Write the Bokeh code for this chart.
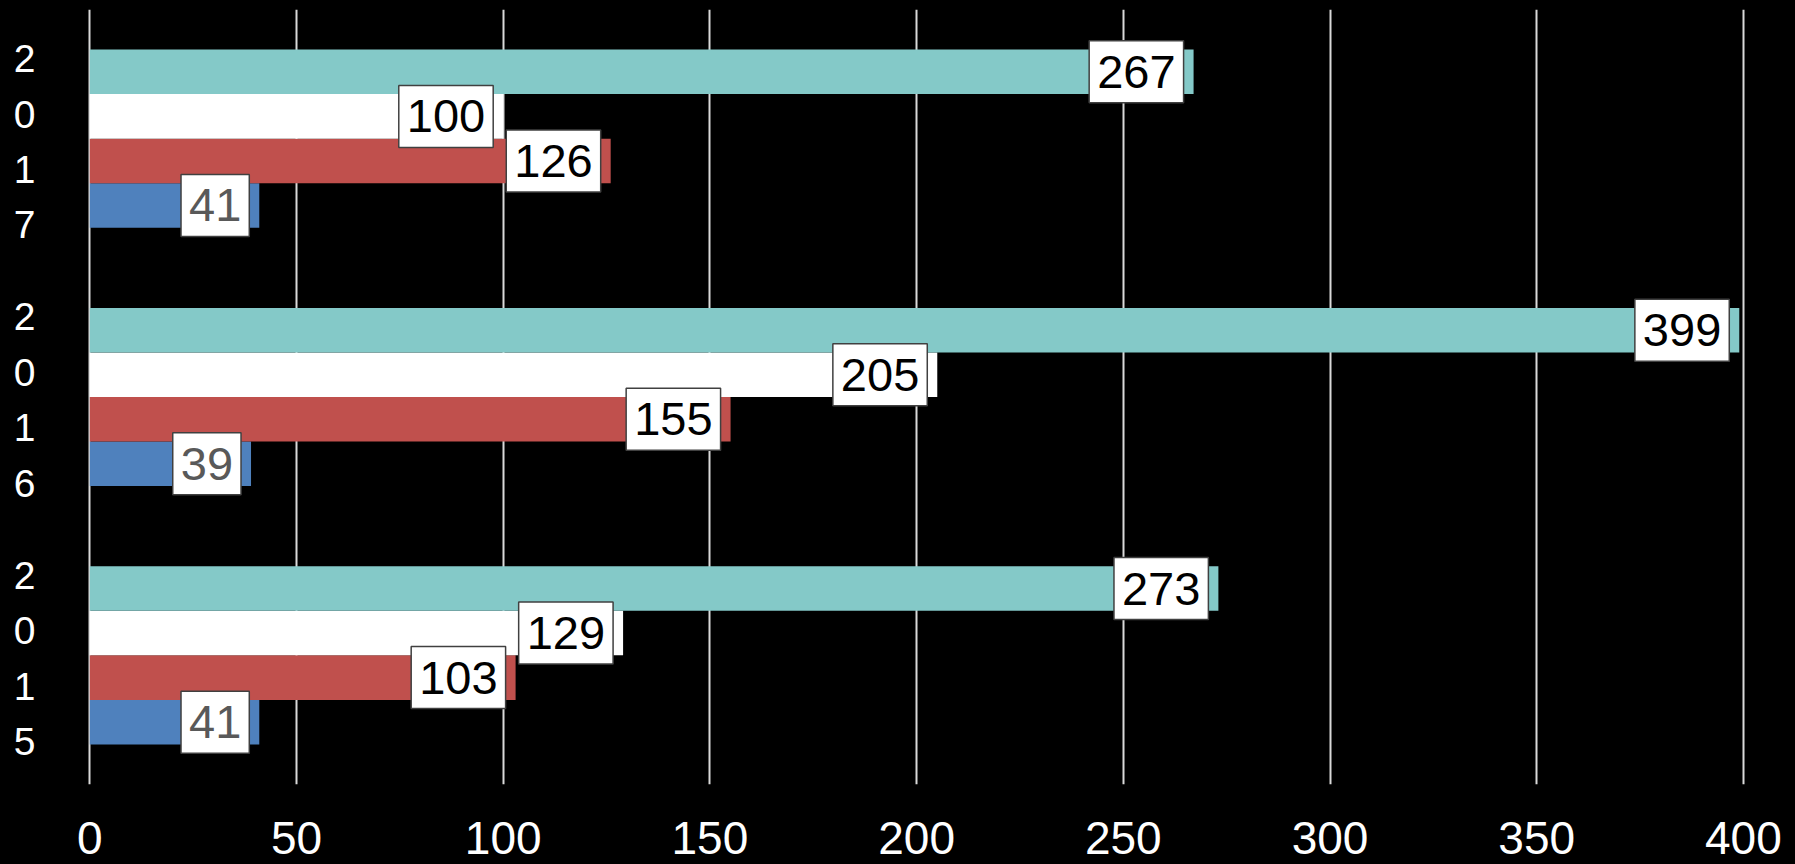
from bokeh.plotting import figure
from bokeh.models import ColumnDataSource, FactorRange, Range1d, FixedTicker
from bokeh.transform import dodge
from bokeh.core.properties import value
from bokeh.embed import file_html
from bokeh.resources import INLINE

# Data
years = ["2015", "2016", "2017"]
blue_vals = [41, 39, 41]
red_vals = [103, 155, 126]
white_vals = [129, 205, 100]
teal_vals = [273, 399, 267]
x_ticks = [0, 50, 100, 150, 200, 250, 300, 350, 400]

series = [
    # (values, fill colour, label text colour, offset within category)
    (blue_vals, "#4F81BD", "#595959", -0.2587),
    (red_vals, "#C0504D", "#000000", -0.0862),
    (white_vals, "#FFFFFF", "#000000", 0.0862),
    (teal_vals, "#84C9C8", "#000000", 0.2587),
]
BAR_H = 0.1725
FONT = "Liberation Sans"

p = figure(
    width=1795, height=864,
    y_range=FactorRange(*years, range_padding=0),
    x_range=Range1d(-21.6, 412.6),
    output_backend="svg", toolbar_location=None,
    min_border_left=0, min_border_right=0, min_border_top=9, min_border_bottom=80,
    background_fill_color="black", border_fill_color="black",
    outline_line_color=None,
)

bars = []
for vals, color, txt_color, off in series:
    src = ColumnDataSource(dict(year=years, v=vals, lab=[str(v) for v in vals]))
    p.hbar(y=dodge("year", off, range=p.y_range), right="v", left=0, height=BAR_H,
           source=src, fill_color=color, line_color=None)
    bars.append((src, txt_color, off))

# Value boxes go on top of every bar
for src, txt_color, off in bars:
    p.text(x="v", y=dodge("year", off, range=p.y_range), text="lab", source=src,
           text_align="right", text_baseline="middle", x_offset=-10,
           text_font=value(FONT), text_font_size="47px", text_color=txt_color,
           background_fill_color="white", border_line_color="#404040",
           border_line_width=1.5, padding=dict(left=8, right=8, top=15, bottom=15))

# Year labels written one digit per line beside each group
ysrc = ColumnDataSource(dict(year=years, lab=["\n".join(y) for y in years], x=[-15.8] * 3))
p.text(x="x", y=dodge("year", -0.012, range=p.y_range), text="lab", source=ysrc,
       text_align="center", text_baseline="middle", text_line_height=1.29,
       text_font=value(FONT), text_font_size="39px", text_color="white")

p.yaxis.visible = False
p.ygrid.grid_line_color = None

p.xaxis.ticker = FixedTicker(ticks=x_ticks)
p.xaxis.axis_line_color = None
p.xaxis.major_tick_line_color = None
p.xaxis.minor_tick_line_color = None
p.xaxis.major_tick_out = 0
p.xaxis.major_tick_in = 0
p.xaxis.major_label_standoff = 37
p.xaxis.major_label_text_line_height = 0.9
p.xaxis.major_label_text_font = FONT
p.xaxis.major_label_text_font_size = "46px"
p.xaxis.major_label_text_color = "white"

p.xgrid.ticker = FixedTicker(ticks=x_ticks)
p.xgrid.grid_line_color = "#D9D9D9"
p.xgrid.grid_line_width = 2
p.xgrid.level = "underlay"

html = file_html(p, INLINE)
html = html.replace("</head>", "<style>html, body { margin: 0; overflow: hidden; background: black; }</style></head>", 1)
open("out.html", "w").write(html)
